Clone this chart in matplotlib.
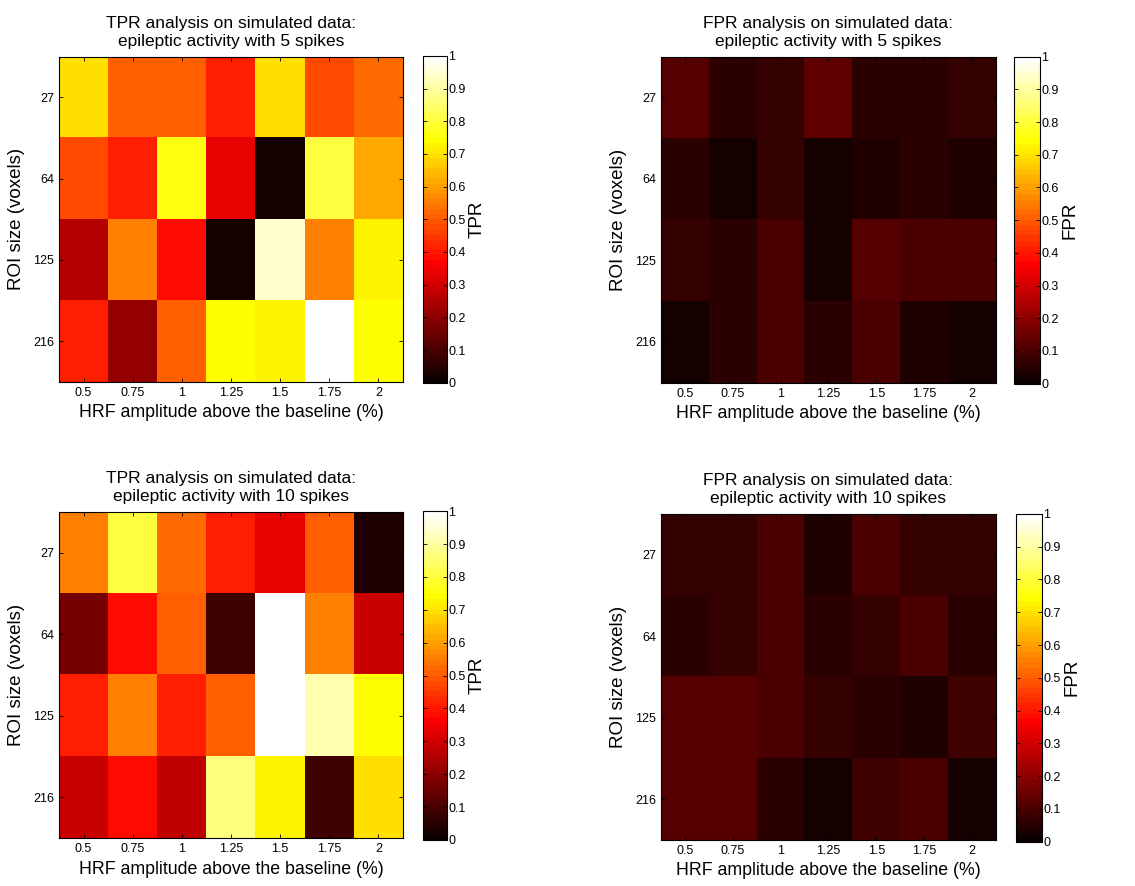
import numpy as np
import matplotlib
matplotlib.use("Agg")
import matplotlib.pyplot as plt

plt.rcParams['font.family'] = ['Liberation Sans', 'DejaVu Sans']

# Grid axes
hrf_amp = ["0.5", "0.75", "1", "1.25", "1.5", "1.75", "2"]
roi_size = ["27", "64", "125", "216"]

# TPR / FPR per ROI size (rows) and HRF amplitude (columns)
tpr_5 = [[0.69, 0.51, 0.51, 0.41, 0.69, 0.48, 0.53],
         [0.48, 0.42, 0.75, 0.33, 0.03, 0.80, 0.62],
         [0.26, 0.56, 0.39, 0.02, 0.95, 0.56, 0.72],
         [0.41, 0.21, 0.51, 0.74, 0.73, 1.00, 0.74]]
fpr_5 = [[0.11, 0.06, 0.065, 0.13, 0.06, 0.06, 0.07],
         [0.05, 0.03, 0.065, 0.02, 0.045, 0.06, 0.045],
         [0.07, 0.05, 0.10, 0.02, 0.11, 0.10, 0.10],
         [0.02, 0.06, 0.095, 0.05, 0.095, 0.04, 0.03]]
tpr_10 = [[0.56, 0.80, 0.53, 0.41, 0.33, 0.50, 0.04],
          [0.16, 0.39, 0.50, 0.09, 1.00, 0.56, 0.29],
          [0.41, 0.56, 0.41, 0.51, 1.00, 0.91, 0.74],
          [0.29, 0.39, 0.27, 0.87, 0.73, 0.09, 0.70]]
fpr_10 = [[0.065, 0.065, 0.095, 0.045, 0.095, 0.07, 0.065],
          [0.05, 0.065, 0.095, 0.05, 0.07, 0.10, 0.05],
          [0.11, 0.11, 0.095, 0.07, 0.06, 0.045, 0.08],
          [0.11, 0.11, 0.06, 0.02, 0.08, 0.10, 0.02]]

panels = [
    (tpr_5, "TPR", "5", [0.052, 0.569, 0.303, 0.367], [0.3727, 0.568, 0.0211, 0.369]),
    (fpr_5, "FPR", "5", [0.5824, 0.568, 0.295, 0.368], [0.8934, 0.567, 0.0229, 0.369]),
    (tpr_10, "TPR", "10", [0.052, 0.054, 0.303, 0.368], [0.3727, 0.052, 0.0211, 0.371]),
    (fpr_10, "FPR", "10", [0.5824, 0.052, 0.295, 0.368], [0.8952, 0.050, 0.0229, 0.370]),
]

cmap = plt.get_cmap("hot", 64)
cb_ticks = np.arange(0, 1.01, 0.1)
cb_labels = ["0"] + ["%.1f" % t for t in cb_ticks[1:-1]] + ["1"]

fig = plt.figure(figsize=(11.35, 8.86), dpi=100)

for data, metric, spikes, ax_pos, cb_pos in panels:
    ax = fig.add_axes(ax_pos)
    im = ax.imshow(np.array(data), cmap=cmap, vmin=0, vmax=1, aspect="auto",
                   interpolation="nearest")
    ax.set_xticks(range(len(hrf_amp)))
    ax.set_xticklabels(hrf_amp, fontsize=9)
    ax.set_yticks(range(len(roi_size)))
    ax.set_yticklabels(roi_size, fontsize=9)
    ax.tick_params(direction="in", top=True, right=True, length=3, width=0.6)
    for s in ax.spines.values():
        s.set_linewidth(0.8)
    ax.set_xlabel("HRF amplitude above the baseline (%)", fontsize=12.8, labelpad=4)
    ax.set_ylabel("ROI size (voxels)", fontsize=13.5, labelpad=6)
    ax.set_title(metric + " analysis on simulated data:\nepileptic activity with "
                 + spikes + " spikes", fontsize=12.5, linespacing=1.25, pad=8)

    cax = fig.add_axes(cb_pos)
    cb = fig.colorbar(im, cax=cax)
    cb.set_ticks(cb_ticks)
    cb.set_ticklabels(cb_labels)
    cb.ax.tick_params(direction="in", left=True, right=True, length=3, width=0.6,
                      labelsize=9, pad=1)
    cb.outline.set_linewidth(0.8)
    cb.set_label(metric, fontsize=13.5, labelpad=2)

fig.savefig("out.png", dpi=100)
